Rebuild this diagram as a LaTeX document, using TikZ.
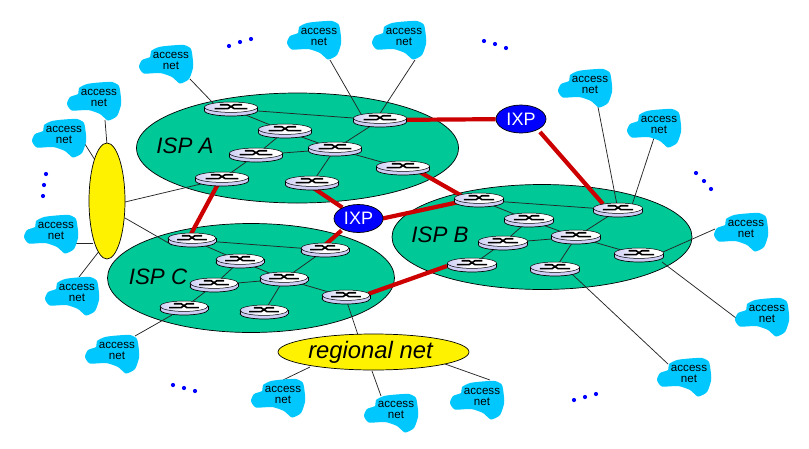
\documentclass[tikz,border=0pt]{standalone}
\usepackage{fontspec}
\usetikzlibrary{shapes.geometric}
\setmainfont{Liberation Sans}
\pgfdeclarelayer{back}
\pgfdeclarelayer{links}
\pgfdeclarelayer{clouds}
\pgfsetlayers{back,links,clouds,main}
\definecolor{ispgreen}{RGB}{0,200,150}
\definecolor{acccyan}{RGB}{0,200,255}
\definecolor{redlink}{RGB}{204,0,0}
\definecolor{rtlav}{RGB}{205,205,245}
\tikzset{
  isp/.style={ellipse,draw=black,line width=0.7pt,fill=ispgreen,inner sep=0pt},
  yel/.style={ellipse,draw=black,line width=0.7pt,fill=yellow,inner sep=0pt},
  ixp/.style={ellipse,draw=black,line width=0.7pt,fill=blue,inner sep=0pt,text=white,font=\fontsize{18}{20}\selectfont},
  lbl/.style={font=\fontsize{22.3}{26}\selectfont\itshape,inner sep=0pt},
  acc/.style={align=center,inner sep=0pt,font=\fontsize{11.6}{11.8}\selectfont},
  thin link/.style={draw=black!85,line width=0.75pt},
  redl/.style={draw=redlink,line width=4.2pt},
  bluedot/.style={fill=blue},
  pics/rt/.style={code={
    \draw[line width=0.7pt,fill=rtlav] (0,1.8) ellipse [x radius=#1,y radius=5.2];
    \fill[rtlav] (-#1,-1.8) rectangle (#1,1.8);
    \draw[line width=0.7pt] (-#1,-1.8) -- (-#1,1.8) (#1,-1.8) -- (#1,1.8);
    \draw[line width=0.5pt,left color=rtlav,right color=white,middle color=white] (0,-1.8) ellipse [x radius=#1,y radius=5.2];
    \draw[line width=1.6pt] (-0.42*#1,-4.3) -- (-0.12*#1,-4.3) -- (0.12*#1,-0.4) -- (0.62*#1,-0.4)
      (-0.62*#1,-0.4) -- (-0.12*#1,-0.4) -- (0.12*#1,-4.3) -- (0.42*#1,-4.3);
  }},
  pics/cl/.style={code={
    \fill[acccyan] plot[smooth cycle,tension=0.4] coordinates {(-32,6) (-29,-1) (-21,-4) (-20,-10) (-12,-14) (0,-15.5) (13,-16) (20,-12) (22,0) (22,7) (18,18) (9,22.5) (1,16) (-11,12) (-27,12.5)};
  }},
}
\begin{document}
\begin{tikzpicture}[x=1pt,y=-1pt]
\useasboundingbox (0,0) rectangle (809,448);
\begin{pgfonlayer}{back}
\node[isp,minimum width=322pt,minimum height=110pt] (IA) at (297.5,148) {};
\node[isp,minimum width=300pt,minimum height=105pt] (IB) at (542,237) {};
\node[isp,minimum width=287pt,minimum height=109pt] (IC) at (251,278) {};
\end{pgfonlayer}
\node[lbl] (tA) at (185,146) {ISP A};
\node[lbl] (tB) at (440,235) {ISP B};
\node[lbl] (tC) at (158,277) {ISP C};
\node[yel,minimum width=36pt,minimum height=116pt] (Y) at (107,201) {};
\node[yel,minimum width=191pt,minimum height=36pt,font=\fontsize{23.8}{26}\selectfont\itshape] (RN) at (373.5,352) {\hspace{-6pt}regional net};
\node[ixp,minimum width=50pt,minimum height=28pt] (X1) at (521,119) {IXP};
\node[ixp,minimum width=49pt,minimum height=28pt] (X2) at (358.5,218.5) {IXP};
% routers
\foreach \n/\x/\y in {R1/231/109,R2/285/131,R3/256/155,R4/335/149,R5/380/120,R6/403/168,R7/312/183,R8/222/179}{
  \coordinate (\n) at (\x,\y); \pic at (\n) {rt=26.5};}
\foreach \n/\x/\y in {B1/479/200,B2/529/220,B3/503/243,B4/576/237,B5/618/210,B6/639/255,B7/555/269,B8/472/265}{
  \coordinate (\n) at (\x,\y); \pic at (\n) {rt=24.5};}
\foreach \n/\x/\y in {C1/192/240,C2/240/261,C3/214/285,C4/284/279,C5/325/250,C6/346/297,C7/264/312,C8/184/308}{
  \coordinate (\n) at (\x,\y); \pic at (\n) {rt=24};}
% access nets
\foreach \n/\x/\y in {cA/171/61,cB/319/37,cC/404/37,cD/99/98,cE/64/135,cF/56/231,cG/77/293,cH/117/351,cI/283/395,cJ/396/410,cK/482/397,cL/590/85,cM/659/125,cN/746/229,cO/767/314,cP/689/374}{
  \node[acc] (\n) at (\x,\y) {access\\net};
  \begin{pgfonlayer}{clouds}\pic at (\n) {cl};\end{pgfonlayer}}
% links
\begin{pgfonlayer}{links}
\foreach \p in {R,B,C}{
  \foreach \a/\b in {1/5,1/2,2/3,2/4,3/4,3/8,4/5,4/6,4/7}{
    \path[thin link] (\p\a) -- (\p\b);}}
\path[thin link] ([shift={(19,18)}]cA.center) -- ([shift={(-18,-6)}]R1);
\path[thin link] ([shift={(11,23)}]cB.center) -- ([shift={(-19,-6)}]R5);
\path[thin link] ([shift={(11,23)}]cC.center) -- ([shift={(-1,-5)}]R5);
\path[thin link] ([shift={(6,22)}]cD.center) -- ([shift={(0,-56)}]Y.center);
\path[thin link] ([shift={(19,6)}]cE.center) -- ([shift={(-12,-41)}]Y.center);
\path[thin link] ([shift={(20,12)}]cF.center) -- ([shift={(-14,42)}]Y.center);
\path[thin link] ([shift={(2,-16)}]cG.center) -- ([shift={(-7,49)}]Y.center);
\path[thin link] ([shift={(18,1)}]Y.center) -- (R8);
\path[thin link] ([shift={(18,17)}]Y.center) -- ([shift={(-20,5)}]C1);
\path[thin link] ([shift={(18,-15)}]cH.center) -- ([shift={(-12,7)}]C8);
\path[thin link] ([shift={(1,5)}]C6) -- ([shift={(-15.5,-17)}]RN.center);
\path[thin link] ([shift={(-63.5,15)}]RN.center) -- ([shift={(0,-15)}]cI.center);
\path[thin link] ([shift={(-1.5,19)}]RN.center) -- ([shift={(-15,-14)}]cJ.center);
\path[thin link] ([shift={(71.5,12)}]RN.center) -- ([shift={(8,-17)}]cK.center);
\path[thin link] ([shift={(8,22)}]cL.center) -- ([shift={(-1,-5)}]B5);
\path[thin link] ([shift={(-5,13)}]cM.center) -- ([shift={(14,-5)}]B5);
\path[thin link] ([shift={(-31,0)}]cN.center) -- ([shift={(24,-3)}]B6);
\path[thin link] ([shift={(-31,4)}]cO.center) -- ([shift={(23,7)}]B6);
\path[thin link] ([shift={(-21,-10)}]cP.center) -- ([shift={(18,6)}]B7);
% backbone
\path[redl] (R5) -- (X1);
\path[redl] ([shift={(19,13)}]X1.center) -- ([shift={(-15,-6)}]B5);
\path[redl] ([shift={(15,3)}]R6) -- ([shift={(-17,-4)}]B1);
\path[redl] ([shift={(0,4)}]R7) -- (X2);
\path[redl] ([shift={(24,0)}]X2.center) -- ([shift={(-20,2)}]B1);
\path[redl] ([shift={(-17,12)}]X2.center) -- ([shift={(0,-5)}]C5);
\path[redl] ([shift={(22,-3)}]C6) -- ([shift={(-25,1)}]B8);
\path[redl] ([shift={(-4,5)}]R8) -- ([shift={(-1,-6)}]C1);
\end{pgfonlayer}
% dots
\foreach \x/\y in {229/46,240/42,251/39,484/41,495/44,506/48,46/174,44/185,43/196,696/173,704/181,711/189,173/385,184/388,195/391,574/400,585/397,596/394}{
  \fill[bluedot] (\x,\y) circle[radius=2.1];}
\end{tikzpicture}
\end{document}
